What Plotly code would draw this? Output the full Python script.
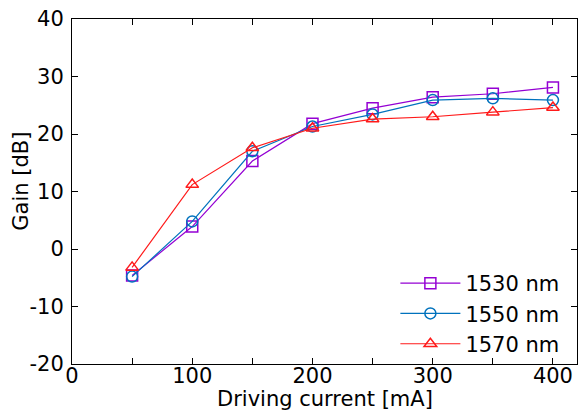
import plotly.graph_objects as go

current_mA = [50, 100, 150, 200, 250, 300, 350, 400]
gain_1530 = [-4.6, 3.9, 15.3, 21.8, 24.5, 26.4, 27.0, 28.1]
gain_1550 = [-4.8, 4.8, 17.0, 21.3, 23.4, 25.9, 26.2, 25.9]
gain_1570 = [-3.2, 11.2, 17.6, 21.0, 22.6, 23.0, 23.8, 24.6]

series = [
    ("1530 nm", gain_1530, "#9400d3", "square-open"),
    ("1550 nm", gain_1550, "#0072bd", "circle-open"),
    ("1570 nm", gain_1570, "#ff1a1a", "triangle-up-open"),
]

x_tickvals = [0, 100, 200, 300, 400]
x_ticktext = ["0", "100", "200", "300", "400"]
y_tickvals = [-20, -10, 0, 10, 20, 30, 40]
y_ticktext = ["-20", "-10", "0", "10", "20", "30", "40"]

FONT = "DejaVu Sans, Liberation Sans, Arial, sans-serif"
FS = 21

fig = go.Figure()
for name, vals, color, sym in series:
    fig.add_trace(go.Scatter(
        x=current_mA, y=vals, name=name, mode="lines+markers",
        line=dict(color=color, width=1.2),
        marker=dict(symbol=sym, size=11, color=color, line=dict(width=1.5, color=color)),
    ))

axis_common = dict(
    showline=True, linecolor="black", linewidth=1, mirror="ticks",
    ticks="inside", ticklen=6, tickcolor="black", tickwidth=1,
    showgrid=False, zeroline=False,
    tickfont=dict(size=FS, color="black"),
    automargin=False,
)

fig.update_xaxes(
    range=[0, 420], tickvals=x_tickvals, ticktext=x_ticktext,
    ticklabelstandoff=-7,
    minor=dict(dtick=50, tick0=0, ticks="inside", ticklen=6, tickcolor="black", showgrid=False),
    **axis_common,
)
fig.update_yaxes(
    range=[-20, 40], tickvals=y_tickvals, ticktext=y_ticktext,
    ticklabelstandoff=3,
    **axis_common,
)

fig.add_annotation(
    text="Driving current [mA]", xref="paper", yref="paper",
    x=0.5, y=-0.1, xanchor="center", yanchor="middle", showarrow=False,
    font=dict(size=FS, color="black"),
)
fig.add_annotation(
    text="Gain [dB]", xref="paper", yref="paper",
    x=-0.1, y=0.53, xanchor="center", yanchor="middle", showarrow=False,
    textangle=-90, font=dict(size=FS, color="black"),
)

fig.update_layout(
    width=579, height=414,
    margin=dict(l=72, r=2, t=19, b=50, autoexpand=False),
    paper_bgcolor="white", plot_bgcolor="white",
    font=dict(family=FONT, color="black"),
    legend=dict(
        x=0.975, y=0.0, xanchor="right", yanchor="bottom",
        bgcolor="rgba(0,0,0,0)", font=dict(size=FS, color="black"),
        tracegroupgap=0, itemwidth=60,
    ),
)

fig.write_html("out.html", config={"displayModeBar": False})

with open("out.html", "r", encoding="utf-8") as f:
    html = f.read()
html = html.replace("<body>", '<body style="margin:0;padding:0;overflow:hidden">', 1)
with open("out.html", "w", encoding="utf-8") as f:
    f.write(html)
